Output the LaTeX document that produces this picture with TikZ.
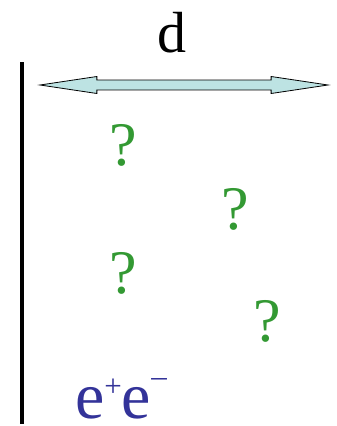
\documentclass[tikz,border=0pt]{standalone}
\usepackage{fontspec}
\setmainfont{Liberation Serif}
\usetikzlibrary{shapes.arrows}
\definecolor{qgreen}{HTML}{339933}
\definecolor{pairblue}{HTML}{333399}
\definecolor{arrowfill}{HTML}{BDE3E3}
\tikzset{
  wall line/.style={line width=4pt, line cap=butt},
  gap arrow/.style={double arrow, draw=black, fill=arrowfill, line width=0.8pt,
    minimum height=288pt, minimum width=17pt, inner xsep=0pt, inner ysep=4.5pt,
    double arrow head extend=3.5pt, double arrow tip angle=17},
  query mark/.style={anchor=base, text=qgreen, font=\fontsize{62}{62}\selectfont, inner sep=0pt},
  big label/.style={anchor=base, font=\fontsize{58}{58}\selectfont, inner sep=0pt}
}
\begin{document}
\begin{tikzpicture}[x=1pt,y=-1pt]
\useasboundingbox (0,0) rectangle (337,426);
% wall
\draw[wall line] (22,62) -- (22,424);
% distance arrow
\node[gap arrow] (gap) at (184,85) {};
\node[big label] (dlabel) at (172,52) {d};
% unknown positions
\node[query mark] (q1) at (123,165) {?};
\node[query mark] (q2) at (235,229) {?};
\node[query mark] (q3) at (123,293) {?};
\node[query mark] (q4) at (267,341) {?};
% particle label
\node[anchor=base west, inner sep=0pt, text=pairblue, font=\fontsize{66}{66}\selectfont] (pair) at (75,418)
  {e\raisebox{22pt}{\fontsize{31}{31}\selectfont +}e\raisebox{32pt}{\fontsize{31}{31}\selectfont\textendash}};
\end{tikzpicture}
\end{document}
